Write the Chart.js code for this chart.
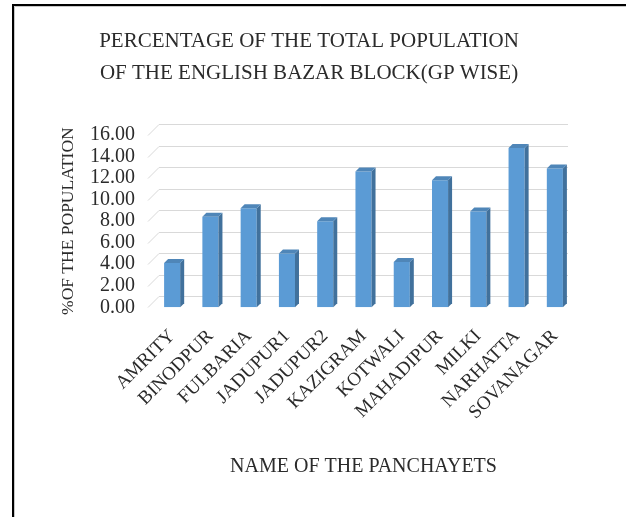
<!DOCTYPE html>
<html>
<head>
<meta charset="utf-8">
<script src="https://cdn.jsdelivr.net/npm/chart.js@4"></script>
<style>
  body { margin: 0; background: #fff; }
  #wrap { width: 626px; height: 517px; }
</style>
</head>
<body>
<div id="wrap"><canvas id="myChart" width="626" height="517"></canvas></div>
<script>
// panchayet names and their share of the block's population (%)
const panchayets = ['AMRITY', 'BINODPUR', 'FULBARIA', 'JADUPUR1', 'JADUPUR2', 'KAZIGRAM',
    'KOTWALI', 'MAHADIPUR', 'MILKI', 'NARHATTA', 'SOVANAGAR'];
const populationPct = [4.1, 8.4, 9.2, 5.0, 8.0, 12.6, 4.2, 11.8, 8.9, 14.8, 12.9];
const yMax = 16;
const yStep = 2;

const serif = 'Liberation Serif, Times New Roman, serif';
const depth = 4;     // fake 3d depth of the bars
const wallDepth = 11; // slant of the back wall gridlines

// page frame like the original screenshot
const framePlugin = {
    id: 'frame',
    beforeDraw(chart) {
        const ctx = chart.ctx;
        ctx.save();
        ctx.fillStyle = '#fff';
        ctx.fillRect(0, 0, chart.width, chart.height);
        ctx.strokeStyle = '#000';
        ctx.lineWidth = 2;
        ctx.beginPath();
        ctx.moveTo(13, chart.height);
        ctx.lineTo(13, 5);
        ctx.lineTo(chart.width, 5);
        ctx.stroke();
        ctx.strokeStyle = '#c8c8c8';
        ctx.lineWidth = 1;
        ctx.beginPath();
        ctx.moveTo(14.5, chart.height);
        ctx.lineTo(14.5, 6.5);
        ctx.lineTo(chart.width, 6.5);
        ctx.stroke();
        ctx.restore();
    }
};

// gridlines with a slanted bit on the left, like the excel 3d wall
const wallGrid = {
    id: 'wallGrid',
    beforeDatasetsDraw(chart) {
        const ctx = chart.ctx;
        const y = chart.scales.y;
        const area = chart.chartArea;
        ctx.save();
        ctx.strokeStyle = '#d9d9d9';
        ctx.lineWidth = 1;
        for (let v = 0; v <= yMax; v += yStep) {
            const py = Math.round(y.getPixelForValue(v)) + 0.5;
            ctx.beginPath();
            ctx.moveTo(area.left - 5, py);
            ctx.lineTo(area.left - 5 + wallDepth, py - wallDepth);
            ctx.lineTo(area.right - 6, py - wallDepth);
            ctx.stroke();
        }
        ctx.restore();
    }
};

// side and top faces of each bar
const bar3d = {
    id: 'bar3d',
    afterDatasetsDraw(chart) {
        const ctx = chart.ctx;
        chart.getDatasetMeta(0).data.forEach(bar => {
            const left = bar.x - bar.width / 2;
            const right = bar.x + bar.width / 2;
            ctx.save();
            ctx.fillStyle = '#41719c';
            ctx.beginPath();
            ctx.moveTo(right, bar.y);
            ctx.lineTo(right + depth, bar.y - depth);
            ctx.lineTo(right + depth, bar.base - depth);
            ctx.lineTo(right, bar.base);
            ctx.closePath();
            ctx.fill();
            ctx.fillStyle = '#4f86b8';
            ctx.beginPath();
            ctx.moveTo(left, bar.y);
            ctx.lineTo(left + depth, bar.y - depth);
            ctx.lineTo(right + depth, bar.y - depth);
            ctx.lineTo(right, bar.y);
            ctx.closePath();
            ctx.fill();
            ctx.restore();
        });
    }
};

const ctx = document.getElementById('myChart').getContext('2d');
const myChart = new Chart(ctx, {
    type: 'bar',
    data: {
        labels: panchayets,
        datasets: [{
            label: '% of the population',
            data: populationPct,
            backgroundColor: '#5b9bd5',
            borderWidth: 0,
            categoryPercentage: 1,
            barPercentage: 0.42
        }]
    },
    options: {
        responsive: false,
        animation: false,
        layout: {
            padding: { left: 44, right: 52, top: 26, bottom: 38 }
        },
        plugins: {
            legend: { display: false },
            tooltip: { enabled: false },
            title: {
                display: true,
                text: ['PERCENTAGE OF THE TOTAL POPULATION', 'OF THE ENGLISH BAZAR BLOCK(GP WISE)'],
                color: '#2b2b2b',
                font: { family: serif, size: 21, weight: 'normal', lineHeight: 1.5 },
                padding: { top: 0, bottom: 46 }
            }
        },
        scales: {
            x: {
                grid: { display: false, drawTicks: false },
                border: { display: false },
                ticks: {
                    color: '#2b2b2b',
                    font: { family: serif, size: 19 },
                    minRotation: 45,
                    maxRotation: 45,
                    autoSkip: false,
                    padding: 18
                },
                title: {
                    display: true,
                    text: 'NAME OF THE PANCHAYETS',
                    color: '#2b2b2b',
                    font: { family: serif, size: 20 },
                    padding: { top: 13, bottom: 0 }
                }
            },
            y: {
                min: 0,
                max: yMax,
                grid: { display: false, drawTicks: false },
                border: { display: false },
                ticks: {
                    stepSize: yStep,
                    autoSkip: false,
                    color: '#2b2b2b',
                    font: { family: serif, size: 20 },
                    padding: 18,
                    callback: v => v.toFixed(2)
                },
                title: {
                    display: true,
                    text: '%OF THE POPULATION',
                    color: '#2b2b2b',
                    font: { family: serif, size: 17.5 },
                    padding: { top: 14, bottom: -7 }
                }
            }
        }
    },
    plugins: [framePlugin, wallGrid, bar3d]
});
</script>
</body>
</html>
